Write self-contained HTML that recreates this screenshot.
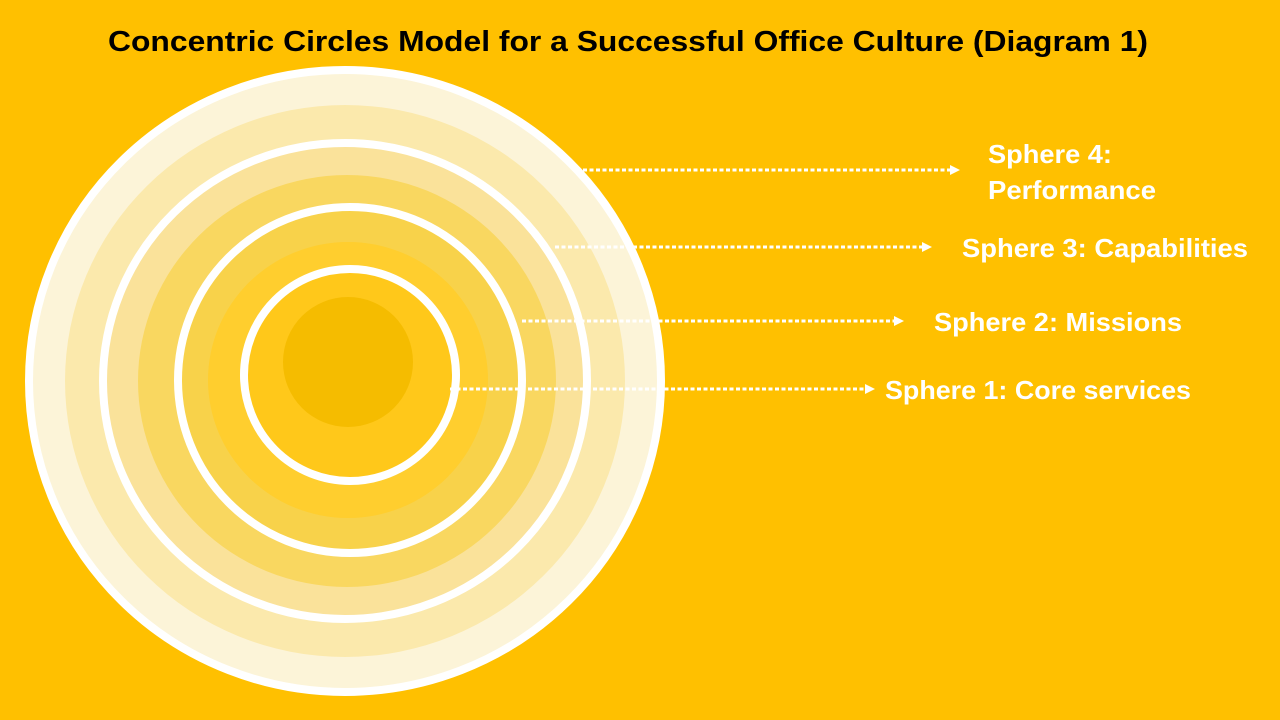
<!DOCTYPE html>
<html><head><meta charset="utf-8"><style>html,body{margin:0;padding:0;background:#FFC000;}svg{display:block}</style></head>
<body>
<svg width="1280" height="720" viewBox="0 0 1280 720" xmlns="http://www.w3.org/2000/svg">
<rect width="1280" height="720" fill="#FFC000"/>
<text x="108" y="51" font-family="Liberation Sans, sans-serif" font-weight="bold" font-size="29" fill="#000" textLength="1040" lengthAdjust="spacingAndGlyphs">Concentric Circles Model for a Successful Office Culture (Diagram 1)</text>
<g>
<ellipse cx="345" cy="381" rx="316" ry="311" fill="#FCF4D8" stroke="#fff" stroke-width="8"/>
<ellipse cx="345" cy="381" rx="280" ry="276" fill="#FBE9AC"/>
<ellipse cx="345" cy="381" rx="242" ry="238" fill="#FAE29A" stroke="#fff" stroke-width="8"/>
<ellipse cx="347" cy="381" rx="209" ry="206" fill="#F9D760"/>
<ellipse cx="350" cy="380" rx="172" ry="173" fill="#F8D24A" stroke="#fff" stroke-width="8"/>
<ellipse cx="348" cy="380" rx="140" ry="138" fill="#FFCE2E"/>
<ellipse cx="350" cy="375" rx="106" ry="106" fill="#FFC81A" stroke="#fff" stroke-width="8"/>
<circle cx="348" cy="362" r="65" fill="#F5BC00"/>
</g>
<g stroke="#fff" stroke-width="3" stroke-dasharray="4 2.5" fill="none">
<line x1="583" y1="170" x2="950" y2="170"/>
<line x1="555" y1="247" x2="922" y2="247"/>
<line x1="522" y1="321" x2="894" y2="321"/>
<line x1="450" y1="389" x2="865" y2="389"/>
</g>
<g fill="#fff">
<polygon points="950,165 960,170 950,175"/>
<polygon points="922,242 932,247 922,252"/>
<polygon points="894,316 904,321 894,326"/>
<polygon points="865,384 875,389 865,394"/>
</g>
<g font-family="Liberation Sans, sans-serif" font-weight="bold" font-size="26" fill="#fff">
<text x="988" y="163" textLength="124" lengthAdjust="spacingAndGlyphs">Sphere 4:</text>
<text x="988" y="199" textLength="168" lengthAdjust="spacingAndGlyphs">Performance</text>
<text x="962" y="257" textLength="286" lengthAdjust="spacingAndGlyphs">Sphere 3: Capabilities</text>
<text x="934" y="331" textLength="248" lengthAdjust="spacingAndGlyphs">Sphere 2: Missions</text>
<text x="885" y="399" textLength="306" lengthAdjust="spacingAndGlyphs">Sphere 1: Core services</text>
</g>
</svg>
</body></html>
